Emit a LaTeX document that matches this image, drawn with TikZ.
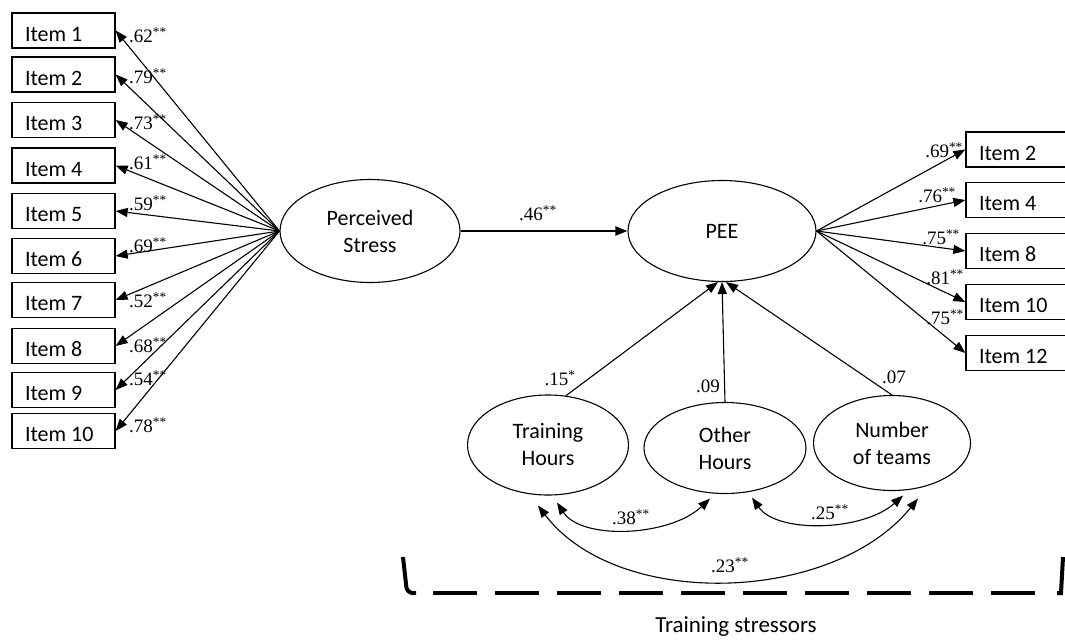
\documentclass[tikz,border=0pt]{standalone}
\usepackage{fontspec}
\setmainfont{Liberation Serif}
\newfontfamily\carlito{Carlito}
\usetikzlibrary{shapes.geometric,arrows.meta}

\begin{document}
\begin{tikzpicture}[x=1pt,y=-1pt,
  itembox/.style={draw,line width=1.3pt,rectangle,minimum height=35pt,text width=77pt,text height=22pt,text depth=1pt,align=flush left,inner xsep=13pt,inner ysep=0pt,font=\carlito\fontsize{22}{26}\selectfont},
  latent/.style={draw,line width=1.1pt,ellipse,inner sep=0pt,align=center,font=\carlito\fontsize{22}{27}\selectfont},
  coef/.style={inner sep=0pt,font=\fontsize{19}{22}\selectfont},
  path/.style={line width=1.1pt,-{Triangle[length=12pt,width=9pt]}},
  cov/.style={line width=1.1pt,{Triangle[length=12pt,width=9pt]}-{Triangle[length=12pt,width=9pt]}}]
\useasboundingbox (0,0) rectangle (1065,640);

\node[latent,minimum width=180pt,minimum height=103pt] (ps) at (370,231) {Perceived\\Stress};
\node[latent,minimum width=188pt,minimum height=101pt] (pee) at (722,231) {PEE};
\node[latent,minimum width=161pt,minimum height=100pt] (th) at (548,445) {Training\\Hours};
\node[latent,minimum width=162pt,minimum height=91pt] (oh) at (725,448) {Other\\Hours};
\node[latent,minimum width=157pt,minimum height=95pt] (nt) at (892,443) {Number\\of teams};

\node[itembox] (s1) at (63.5,30.5) {Item 1};
\node[itembox] (s2) at (63.5,74.5) {Item 2};
\node[itembox] (s3) at (63.5,120) {Item 3};
\node[itembox] (s4) at (63.5,165.5) {Item 4};
\node[itembox] (s5) at (63.5,211) {Item 5};
\node[itembox] (s6) at (63.5,256) {Item 6};
\node[itembox] (s7) at (63.5,300) {Item 7};
\node[itembox] (s8) at (63.5,346) {Item 8};
\node[itembox] (s9) at (63.5,390) {Item 9};
\node[itembox] (s10) at (63.5,431) {Item 10};

\node[itembox] (e2) at (1017.5,149.5) {Item 2};
\node[itembox] (e4) at (1017.5,200) {Item 4};
\node[itembox] (e8) at (1017.5,251) {Item 8};
\node[itembox] (e10) at (1017.5,302) {Item 10};
\node[itembox] (e12) at (1017.5,353) {Item 12};

\draw[path] (ps.west) -- (s1.east);
\draw[path] (ps.west) -- (s2.east);
\draw[path] (ps.west) -- (s3.east);
\draw[path] (ps.west) -- (s4.east);
\draw[path] (ps.west) -- (s5.east);
\draw[path] (ps.west) -- (s6.east);
\draw[path] (ps.west) -- (s7.east);
\draw[path] (ps.west) -- (s8.east);
\draw[path] (ps.west) -- (s9.east);
\draw[path] (ps.west) -- (s10.east);

\node[coef,anchor=west] (ls1) at (129,35) {.62\textsuperscript{**}};
\node[coef,anchor=west] (ls2) at (129,76) {.79\textsuperscript{**}};
\node[coef,anchor=west] (ls3) at (129,122) {.73\textsuperscript{**}};
\node[coef,anchor=west] (ls4) at (129,162) {.61\textsuperscript{**}};
\node[coef,anchor=west] (ls5) at (129,203) {.59\textsuperscript{**}};
\node[coef,anchor=west] (ls6) at (129,245) {.69\textsuperscript{**}};
\node[coef,anchor=west] (ls7) at (129,300) {.52\textsuperscript{**}};
\node[coef,anchor=west] (ls8) at (129,345) {.68\textsuperscript{**}};
\node[coef,anchor=west] (ls9) at (129,378) {.54\textsuperscript{**}};
\node[coef,anchor=west] (ls10) at (129,425) {.78\textsuperscript{**}};

\draw[path] (pee.east) -- (e2.west);
\draw[path] (pee.east) -- (e4.west);
\draw[path] (pee.east) -- (e8.west);
\draw[path] (pee.east) -- (e10.west);
\draw[path] (pee.east) -- (e12.west);

\node[coef,anchor=east] (le2) at (963,150) {.69\textsuperscript{**}};
\node[coef,anchor=east] (le4) at (956,195) {.76\textsuperscript{**}};
\node[coef,anchor=east] (le8) at (960,237) {.75\textsuperscript{**}};
\node[coef,anchor=east] (le10) at (964,277) {.81\textsuperscript{**}};
\node[coef,anchor=east] (le12) at (964,317) {.75\textsuperscript{**}};

\draw[path,line width=2pt] (ps.east) -- (pee.west);
\node[coef] (lps) at (538,213) {.46\textsuperscript{**}};

\draw[path] (th.70) -- ([xshift=-4pt]pee.south);
\draw[path] (oh.north) -- (pee.south);
\draw[path] (nt.north) -- ([xshift=4pt]pee.south);
\node[coef] (lth) at (560,378) {.15\textsuperscript{*}};
\node[coef] (loh) at (708,386) {.09};
\node[coef] (lnt) at (894,377) {.07};

\draw[cov] ([shift={(9,7)}]th.south) .. controls +(25,38) and +(-40,38) .. ([shift={(-15,4.5)}]oh.south);
\draw[cov] ([shift={(27,3.5)}]oh.south) .. controls +(25,36) and +(-40,36) .. ([shift={(11,4.5)}]nt.south);
\draw[cov] ([shift={(-10,10)}]th.south) .. controls +(80,105) and +(-85,105) .. ([shift={(26,7.5)}]nt.south);
\node[coef] (lthoh) at (631,517) {.38\textsuperscript{**}};
\node[coef] (lohnt) at (830,512) {.25\textsuperscript{**}};
\node[coef] (lthnt) at (730,565) {.23\textsuperscript{**}};

\draw[line width=4pt,rounded corners=6pt] (403,557) -- (407,593) -- (416,593);
\draw[line width=4pt,dash pattern=on 44pt off 18pt] (433,593) -- (1037,593);
\draw[line width=4pt] (1057,593) -- (1061,593) -- (1063,557);
\node[font=\carlito\fontsize{23}{27}\selectfont] (ts) at (736,627) {Training stressors};
\end{tikzpicture}
\end{document}
